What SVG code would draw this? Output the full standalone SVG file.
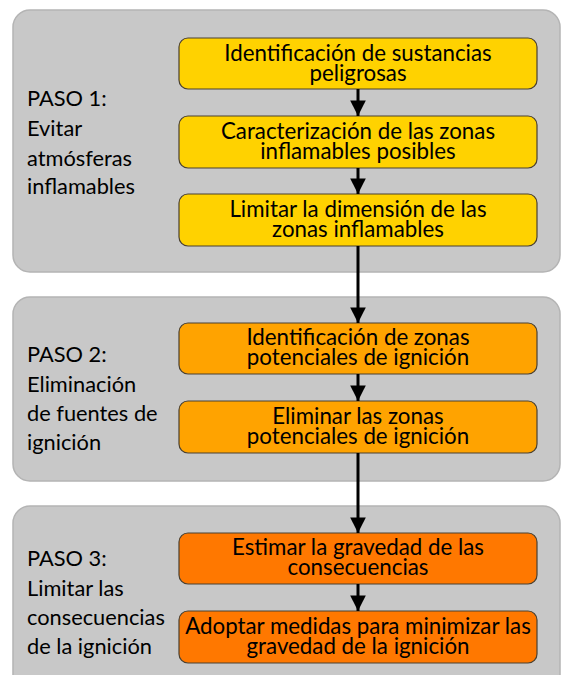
<svg xmlns="http://www.w3.org/2000/svg" width="562" height="675" viewBox="0 0 562 675">
<defs>
<style>
.panel{fill:#c8c8c8;stroke:#b4b4b4;stroke-width:1.5}
.box{stroke:#4a4030;stroke-width:1.2}
.y{fill:#ffd200}
.o{fill:#ffa300}
.r{fill:#ff7800}
.bt{font-family:Lato,"Liberation Sans",sans-serif;font-size:22.3px;fill:#000;text-anchor:middle}
.lt{font-family:Lato,"Liberation Sans",sans-serif;font-size:21.8px;fill:#000}
.conn{stroke:#000;stroke-width:3;fill:none}
</style>
<marker id="ah" viewBox="0 0 10 10" refX="10" refY="5" markerWidth="5.2" markerHeight="5.2" markerUnits="strokeWidth" orient="auto">
<path d="M0,0 L10,5 L0,10 z" fill="#000"/>
</marker>
</defs>
<rect width="562" height="675" fill="#fff"/>
<g id="panel1">
<rect class="panel" x="13" y="10" width="547" height="262" rx="17"/>
<text class="lt" x="27" y="106">PASO 1:</text>
<text class="lt" x="27" y="136">Evitar</text>
<text class="lt" x="27" y="166">atmósferas</text>
<text class="lt" x="27" y="194">inflamables</text>
</g>
<g id="panel2">
<rect class="panel" x="13" y="297" width="547" height="184" rx="17"/>
<text class="lt" x="27" y="362">PASO 2:</text>
<text class="lt" x="27" y="392">Eliminación</text>
<text class="lt" x="27" y="421">de fuentes de</text>
<text class="lt" x="27" y="450">ignición</text>
</g>
<g id="panel3">
<rect class="panel" x="13" y="506" width="547" height="190" rx="17"/>
<text class="lt" x="27" y="566">PASO 3:</text>
<text class="lt" x="27" y="596">Limitar las</text>
<text class="lt" x="27" y="625">consecuencias</text>
<text class="lt" x="27" y="654">de la ignición</text>
</g>
<g id="b1">
<rect class="box y" x="179" y="38" width="358" height="51" rx="9"/>
<text class="bt" x="358" y="61">Identificación de sustancias<tspan x="358" dy="20">peligrosas</tspan></text>
</g>
<g id="b2">
<rect class="box y" x="179" y="116" width="358" height="52" rx="9"/>
<text class="bt" x="358" y="139">Caracterización de las zonas<tspan x="358" dy="20">inflamables posibles</tspan></text>
</g>
<g id="b3">
<rect class="box y" x="179" y="194" width="358" height="52" rx="9"/>
<text class="bt" x="358" y="217">Limitar la dimensión de las<tspan x="358" dy="20">zonas inflamables</tspan></text>
</g>
<g id="b4">
<rect class="box o" x="179" y="323" width="358" height="51" rx="9"/>
<text class="bt" x="358" y="345">Identificación de zonas<tspan x="358" dy="20">potenciales de ignición</tspan></text>
</g>
<g id="b5">
<rect class="box o" x="179" y="401" width="358" height="52" rx="9"/>
<text class="bt" x="358" y="424">Eliminar las zonas<tspan x="358" dy="20">potenciales de ignición</tspan></text>
</g>
<g id="b6">
<rect class="box r" x="179" y="533" width="358" height="51" rx="9"/>
<text class="bt" x="358" y="555">Estimar la gravedad de las<tspan x="358" dy="20">consecuencias</tspan></text>
</g>
<g id="b7">
<rect class="box r" x="179" y="611" width="358" height="52" rx="9"/>
<text class="bt" x="358" y="634">Adoptar medidas para minimizar las<tspan x="358" dy="20">gravedad de la ignición</tspan></text>
</g>
<g id="connectors">
<line class="conn" x1="358" y1="89" x2="358" y2="116" marker-end="url(#ah)"/>
<line class="conn" x1="358" y1="168" x2="358" y2="194" marker-end="url(#ah)"/>
<line class="conn" x1="358" y1="246" x2="358" y2="323" marker-end="url(#ah)"/>
<line class="conn" x1="358" y1="374" x2="358" y2="401" marker-end="url(#ah)"/>
<line class="conn" x1="358" y1="453" x2="358" y2="533" marker-end="url(#ah)"/>
<line class="conn" x1="358" y1="584" x2="358" y2="611" marker-end="url(#ah)"/>
</g>
</svg>
